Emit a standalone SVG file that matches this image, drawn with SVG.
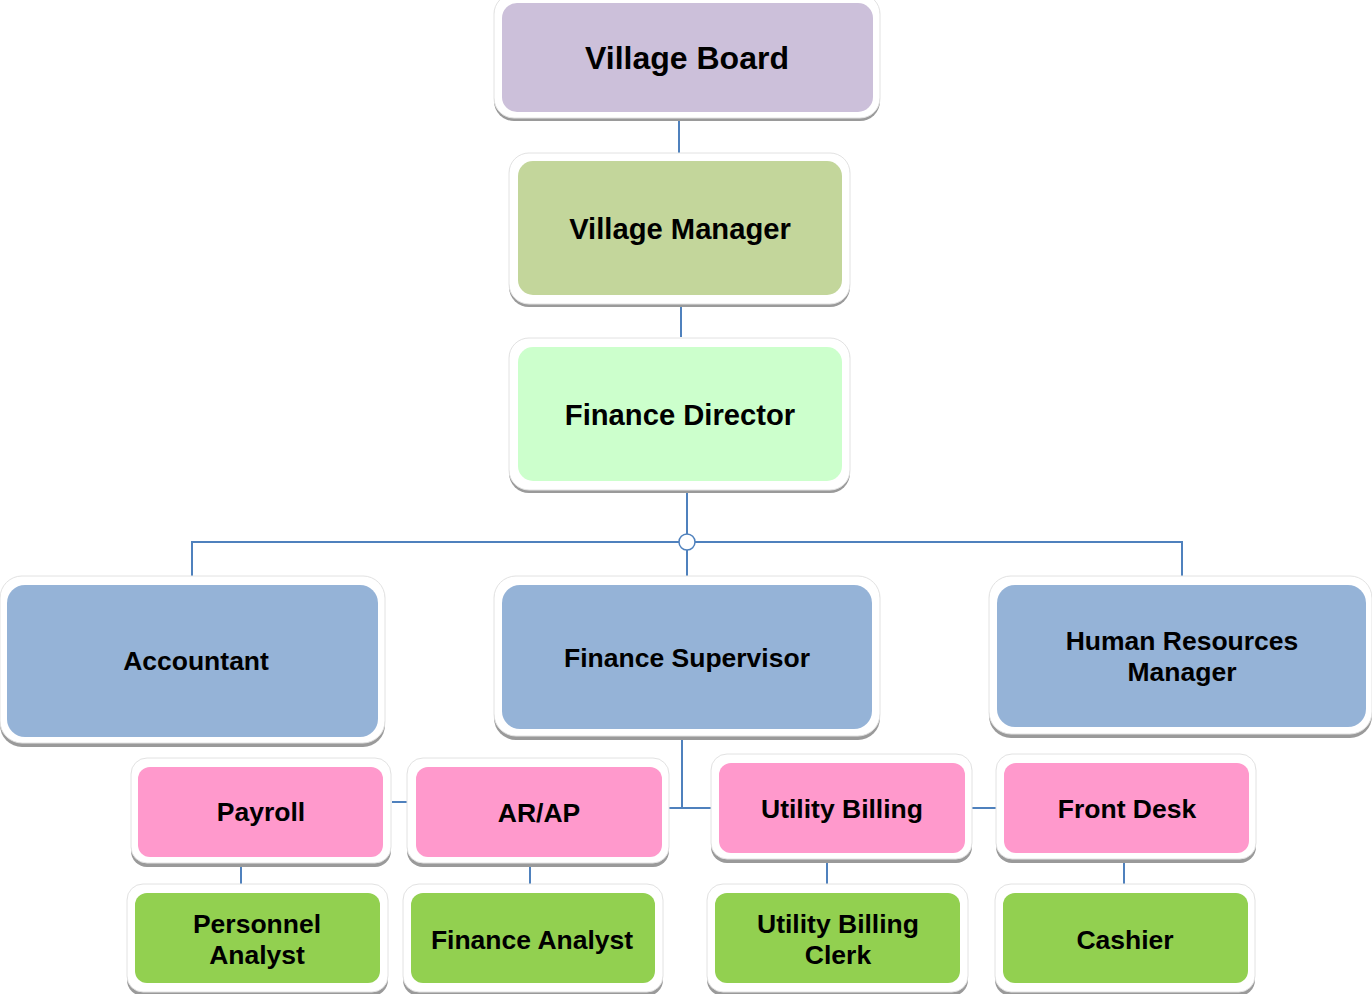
<svg xmlns="http://www.w3.org/2000/svg" width="1372" height="994" viewBox="0 0 1372 994">
<style>
.sh{fill:#9a9a9a}
.fr{fill:#ffffff;stroke:#e2e2e2;stroke-width:1}
.t{font-family:"Liberation Sans",Arial,sans-serif;font-weight:bold;fill:#000;text-anchor:middle}
.s{font-size:26.5px}
.c{stroke:#4f81bd;stroke-width:2;fill:none}
</style>
<rect width="1372" height="994" fill="#ffffff"/>
<g id="connectors">
<line class="c" x1="679" y1="121" x2="679" y2="165"/>
<line class="c" x1="681" y1="305" x2="681" y2="337"/>
<line class="c" x1="687" y1="491" x2="687" y2="537"/>
<line class="c" x1="192" y1="542" x2="682" y2="542"/>
<line class="c" x1="692" y1="542" x2="1182" y2="542"/>
<line class="c" x1="192" y1="541" x2="192" y2="576"/>
<line class="c" x1="1182" y1="541" x2="1182" y2="576"/>
<line class="c" x1="687" y1="547" x2="687" y2="576"/>
<circle cx="687" cy="542" r="8" fill="#ffffff" stroke="#4f81bd" stroke-width="1.5"/>
<line class="c" x1="682" y1="736" x2="682" y2="808"/>
<line class="c" x1="669" y1="808" x2="711" y2="808"/>
<line class="c" x1="392" y1="802" x2="408" y2="802"/>
<line class="c" x1="972" y1="808" x2="996" y2="808"/>
<line class="c" x1="241" y1="865" x2="241" y2="886"/>
<line class="c" x1="530" y1="865" x2="530" y2="886"/>
<line class="c" x1="827" y1="861" x2="827" y2="886"/>
<line class="c" x1="1124" y1="861" x2="1124" y2="886"/>
</g>
<g id="village-board">
<rect class="sh" x="494" y="-4" width="386" height="125" rx="20"/>
<rect class="fr" x="494" y="-6" width="386" height="124" rx="20"/>
<rect x="502" y="3" width="371" height="109" rx="15" fill="#ccc0da"/>
<text class="t" x="687" y="69" font-size="32">Village Board</text>
</g>
<g id="village-manager">
<rect class="sh" x="509" y="155" width="341" height="152" rx="20"/>
<rect class="fr" x="509" y="153" width="341" height="151" rx="20"/>
<rect x="518" y="161" width="324" height="134" rx="15" fill="#c3d69b"/>
<text class="t" x="680" y="239" font-size="29.2">Village Manager</text>
</g>
<g id="finance-director">
<rect class="sh" x="509" y="340" width="341" height="153" rx="20"/>
<rect class="fr" x="509" y="338" width="341" height="152" rx="20"/>
<rect x="518" y="347" width="324" height="134" rx="15" fill="#ccffcc"/>
<text class="t" x="680" y="425" font-size="29.2">Finance Director</text>
</g>
<g id="accountant">
<rect class="sh" x="0" y="578" width="385" height="169" rx="22"/>
<rect class="fr" x="0" y="576" width="385" height="167" rx="22"/>
<rect x="7" y="585" width="371" height="152" rx="18" fill="#95b3d7"/>
<text class="t s" x="196" y="670">Accountant</text>
</g>
<g id="finance-supervisor">
<rect class="sh" x="494" y="578" width="386" height="162" rx="22"/>
<rect class="fr" x="494" y="576" width="386" height="160" rx="22"/>
<rect x="502" y="585" width="370" height="144" rx="18" fill="#95b3d7"/>
<text class="t s" x="687" y="667">Finance Supervisor</text>
</g>
<g id="hr-manager">
<rect class="sh" x="989" y="578" width="383" height="160" rx="22"/>
<rect class="fr" x="989" y="576" width="383" height="158" rx="22"/>
<rect x="997" y="585" width="369" height="142" rx="18" fill="#95b3d7"/>
<text class="t s" x="1182" y="650">Human Resources</text>
<text class="t s" x="1182" y="681">Manager</text>
</g>
<g id="payroll">
<rect class="sh" x="131" y="760" width="260" height="107" rx="16"/>
<rect class="fr" x="131" y="758" width="260" height="105" rx="16"/>
<rect x="138" y="767" width="245" height="90" rx="12" fill="#ff99cc"/>
<text class="t s" x="261" y="821">Payroll</text>
</g>
<g id="ar-ap">
<rect class="sh" x="407" y="760" width="262" height="107" rx="16"/>
<rect class="fr" x="407" y="758" width="262" height="105" rx="16"/>
<rect x="416" y="767" width="246" height="90" rx="12" fill="#ff99cc"/>
<text class="t s" x="539" y="822">AR/AP</text>
</g>
<g id="utility-billing">
<rect class="sh" x="711" y="756" width="261" height="107" rx="16"/>
<rect class="fr" x="711" y="754" width="261" height="105" rx="16"/>
<rect x="719" y="763" width="246" height="90" rx="12" fill="#ff99cc"/>
<text class="t s" x="842" y="818">Utility Billing</text>
</g>
<g id="front-desk">
<rect class="sh" x="996" y="756" width="260" height="107" rx="16"/>
<rect class="fr" x="996" y="754" width="260" height="105" rx="16"/>
<rect x="1004" y="763" width="245" height="90" rx="12" fill="#ff99cc"/>
<text class="t s" x="1127" y="818">Front Desk</text>
</g>
<g id="personnel-analyst">
<rect class="sh" x="127" y="886" width="261" height="110" rx="16"/>
<rect class="fr" x="127" y="884" width="261" height="108" rx="16"/>
<rect x="135" y="893" width="245" height="90" rx="12" fill="#92d050"/>
<text class="t s" x="257" y="933">Personnel</text>
<text class="t s" x="257" y="964">Analyst</text>
</g>
<g id="finance-analyst">
<rect class="sh" x="403" y="886" width="260" height="110" rx="16"/>
<rect class="fr" x="403" y="884" width="260" height="108" rx="16"/>
<rect x="411" y="893" width="244" height="90" rx="12" fill="#92d050"/>
<text class="t s" x="532" y="949">Finance Analyst</text>
</g>
<g id="utility-billing-clerk">
<rect class="sh" x="707" y="886" width="261" height="110" rx="16"/>
<rect class="fr" x="707" y="884" width="261" height="108" rx="16"/>
<rect x="715" y="893" width="245" height="90" rx="12" fill="#92d050"/>
<text class="t s" x="838" y="933">Utility Billing</text>
<text class="t s" x="838" y="964">Clerk</text>
</g>
<g id="cashier">
<rect class="sh" x="995" y="886" width="260" height="110" rx="16"/>
<rect class="fr" x="995" y="884" width="260" height="108" rx="16"/>
<rect x="1003" y="893" width="245" height="90" rx="12" fill="#92d050"/>
<text class="t s" x="1125" y="949">Cashier</text>
</g>
</svg>
